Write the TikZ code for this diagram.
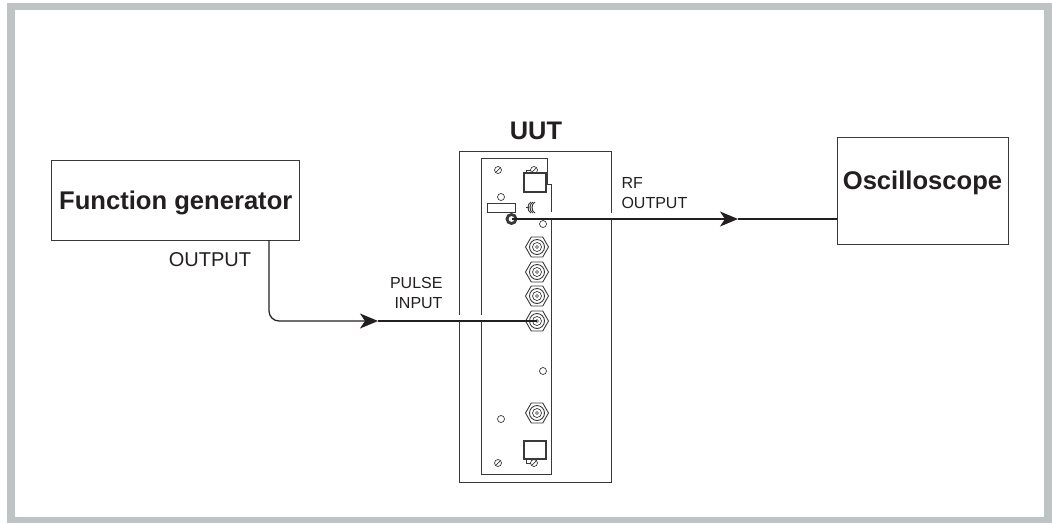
\documentclass[tikz,border=0pt]{standalone}
\usepackage{fontspec}
\setmainfont{Liberation Sans}
\usepackage{tikz}
\usetikzlibrary{arrows.meta}
\definecolor{framegray}{HTML}{BEC4C3}
\definecolor{inkgray}{HTML}{3A393A}
\definecolor{textgray}{HTML}{231F20}

\begin{document}
\begin{tikzpicture}[x=1pt, y=-1pt, line width=1pt, draw=inkgray, text=textgray,
	main node/.style={rectangle,draw,inner sep=0pt,font=\fontsize{25.6}{28}\selectfont\bfseries,text height=18pt},
	small label/.style={inner sep=0pt,font=\fontsize{16}{20}\selectfont},
	wire/.style={line width=1.2pt,draw=textgray},
	wire tip/.style={wire,-{Stealth[length=18pt,width=15pt,inset=5pt]}},
	hole/.style={circle,draw,minimum size=7pt,inner sep=0pt,line width=.7pt},
	ring/.style={circle,draw,inner sep=0pt,line width=.7pt},
	screw/.style={circle,draw,minimum size=7pt,inner sep=0pt,line width=.7pt,
		path picture={\draw[line width=.7pt] (path picture bounding box.south west) -- (path picture bounding box.north east);}}]

	\useasboundingbox (0,0) rectangle (1052,523);
	\fill[framegray] (7,3) rectangle (1052,523);
	\fill[white] (15,10) rectangle (1044,517);

	\node[main node,minimum width=248pt,minimum height=80pt,text depth=0pt] (1) at (175,200) {\hspace{1.5pt}Function generator};
	\node[main node,minimum width=171pt,minimum height=107pt,text depth=21pt] (3) at (922.5,190.5) {Oscilloscope};
	\node[inner sep=0pt,font=\fontsize{25.4}{28}\selectfont\bfseries,anchor=base] (uut) at (536,139) {UUT};

	% unit outline and panel, broken where the wires pass
	\draw (459,315) -- (459,151) -- (611,151) -- (611,213);
	\draw (611,220) -- (611,482) -- (459,482) -- (459,322);
	\draw (481,315) -- (481,158) -- (547,158) -- (547,184) -- (551,184) -- (551,212);
	\draw (551,220) -- (551,474) -- (481,474) -- (481,322);

	% panel parts
	\node[screw] (s1) at (498,170) {};
	\node[screw] (s2) at (534,170) {};
	\node[screw] (s3) at (498,463) {};
	\node[screw] (s4) at (534,463) {};
	\draw[line width=.7pt] (526,174) -- (526,170) -- (531,170);
	\draw[line width=.7pt] (526,459) -- (526,463) -- (531,463);
	\draw[line width=1.1pt] (524,173) rectangle (546,192);
	\draw[line width=1.1pt] (524,441) rectangle (546,459);
	\draw[line width=.7pt] (487,203) rectangle (515,212);
	\node[hole] (h1) at (501,197) {};
	\node[hole] (h2) at (543,224) {};
	\node[hole] (h3) at (543,371) {};
	\node[hole] (h4) at (501,419) {};

	% coil
	\draw[line width=.8pt] (526,207.5) -- (529,207.5);
	\foreach \x in {529,531,533}
		\draw[line width=1pt] (\x+2,202) .. controls (\x-2,204) and (\x-2,211) .. (\x+2,213);

	% connectors
	\foreach \n/\y in {b1/247,b2/272,b3/296,pulse/321,b4/413} {
		\node[ring,line width=.9pt,minimum size=15pt] (\n) at (537,\y) {};
		\draw[line width=.9pt] (\n) +(0:11.5pt) -- +(60:11.5pt) -- +(120:11.5pt) -- +(180:11.5pt) -- +(240:11.5pt) -- +(300:11.5pt) -- cycle;
		\node[ring,minimum size=9pt] at (\n) {};
		\node[ring,line width=.6pt,minimum size=3pt] at (\n) {};
	}
	\node[circle,draw,line width=2.8pt,fill=white,minimum size=9pt,inner sep=0pt] (rf) at (511.5,219) {};

	\coordinate (2) at (269,240);
	\coordinate (tip1) at (378,321);
	\coordinate (tip2) at (738,219);

	\draw[wire tip,rounded corners=10pt] (2) |- (tip1);
	\draw[wire] (tip1) -- (pulse.center);
	\draw[wire tip] (rf.center) -- (tip2);
	\draw[wire] (tip2) -- (3.west |- tip2);

	\node[inner sep=0pt,anchor=base,font=\fontsize{20}{24}\selectfont] (out1) at (210,266) {OUTPUT};
	\node[small label,anchor=base east] (in1) at (443,288) {PULSE};
	\node[small label,anchor=base east] (in2) at (443,308) {INPUT};
	\node[small label,anchor=base west] (rf1) at (621,188) {RF};
	\node[small label,anchor=base west] (rf2) at (621,208) {OUTPUT};

\end{tikzpicture}
\end{document}
